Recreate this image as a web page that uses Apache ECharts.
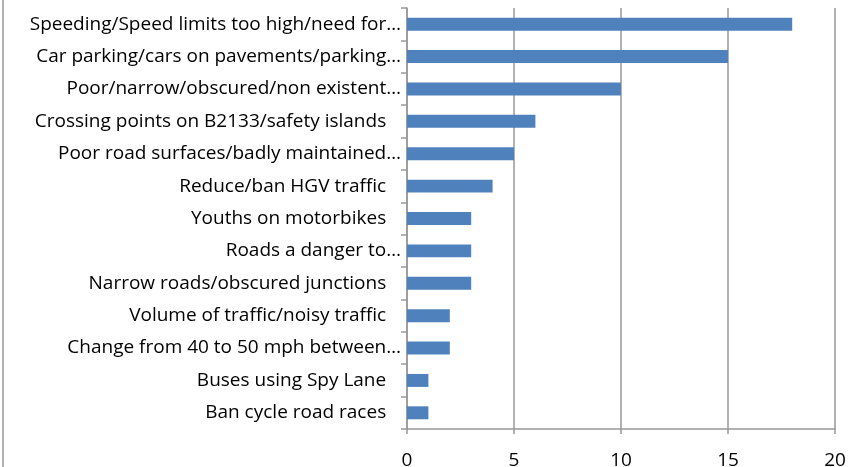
<!DOCTYPE html>
<html>
<head>
<meta charset="utf-8">
<script src="https://cdn.jsdelivr.net/npm/echarts@6/dist/echarts.min.js"></script>
<style>
	html,body{margin:0;padding:0;background:#fff;}
	#main{width:849px;height:467px;}
</style>
</head>
<body>
<div id="main"></div>
<script type="text/javascript">
	// categories, top to bottom as shown (full labels keep their trailing spaces)
	var categories = [
		"Speeding/Speed limits too high/need for…",
		"Car parking/cars on pavements/parking…",
		"Poor/narrow/obscured/non existent…",
		"Crossing points on B2133/safety islands   ",
		"Poor road surfaces/badly maintained…",
		"Reduce/ban HGV traffic   ",
		"Youths on motorbikes   ",
		"Roads a danger to…",
		"Narrow roads/obscured junctions   ",
		"Volume of traffic/noisy traffic   ",
		"Change from 40 to 50 mph between…",
		"Buses using Spy Lane   ",
		"Ban cycle road races   "
	];
	var counts = [18, 15, 10, 6, 5, 4, 3, 3, 3, 2, 2, 1, 1];
	var xTicks = [0, 5, 10, 15, 20];

	var myChart = echarts.init(document.getElementById("main"));

	var option = {
		animation:false,
		textStyle:{fontFamily:"Open Sans"},
		grid:{
			left:407,
			right:14,
			top:8,
			bottom:38,
			outerBoundsMode:'none'
		},
		xAxis:{
			type:'value',
			min:xTicks[0],
			max:xTicks[xTicks.length-1],
			interval:5,
			axisLine:{show:true,lineStyle:{color:"#999",width:1.5}},
			axisTick:{show:true,length:5,lineStyle:{color:"#999",width:1.5}},
			axisLabel:{color:"#000",fontSize:19,margin:22,fontFamily:"Open Sans"},
			splitLine:{show:true,lineStyle:{color:"#999",width:1.5}}
		},
		yAxis:{
			type:'category',
			inverse:true,
			data:categories,
			axisLine:{show:true,lineStyle:{color:"#999",width:1.5}},
			axisTick:{show:true,length:6,lineStyle:{color:"#999",width:1.5}},
			axisLabel:{color:"#000",fontSize:19,margin:6,fontFamily:"Open Sans"}
		},
		series:[{
			type:'bar',
			data:counts,
			barCategoryGap:'60%',
			itemStyle:{color:"#4f81bd"}
		}],
		graphic:[{
			type:'line',
			shape:{x1:3,y1:0,x2:3,y2:467},
			style:{stroke:"#999",lineWidth:1.5}
		}]
	};

	myChart.setOption(option);
</script>
</body>
</html>
